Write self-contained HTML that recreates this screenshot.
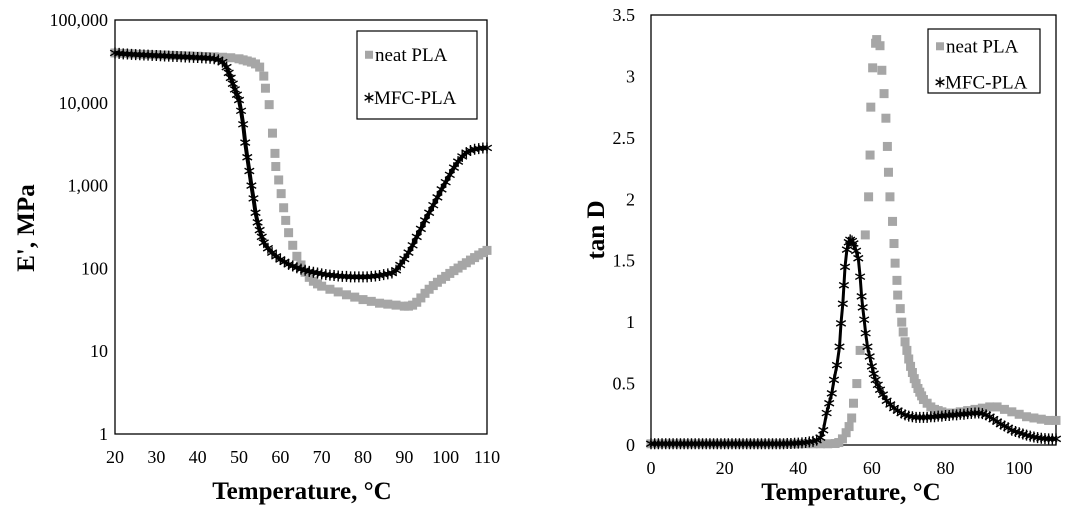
<!DOCTYPE html>
<html><head><meta charset="utf-8"><style>
html,body{margin:0;padding:0;background:#fff;}
svg{display:block;font-family:"Liberation Serif",serif;}
</style></head><body>
<svg id="svg" width="1075" height="512" viewBox="0 0 1075 512">
<g id="L"></g>
<g id="R"></g>
</svg>
<script>
// ---- Left chart data (E', MPa) ----
const leftNeatT = [20,22,24,26,28,30,32,34,36,38,40,42,44,46,48,50,51,52,53,54,55,56,56.4,57.3,58.1,58.7,58.9,59.6,60.2,60.8,61.3,62,63,64,65,66,67,68,69,70,72,74,76,78,80,82,84,86,88,90,91,92,93,94,95,96,97,98,99,100,101,102,103,104,105,106,107,108,109,110];
const leftNeatE = [40000,39500,39000,38500,38200,38000,37700,37400,37100,36800,36500,36200,35900,35500,35000,34000,33000,32000,31000,29500,27000,21000,15000,9500,4300,2450,1700,1170,800,540,380,270,190,140,110,90,78,70,65,61,56,52,48,45,42,40,38,37,36,35,35,36,39,44,50,56,62,68,74,80,87,94,101,109,117,126,135,145,155,165];
const leftMfcT = [20,21,22,23,24,25,26,27,28,29,30,31,32,33,34,35,36,37,38,39,40,41,42,43,44,45,46,47,47.5,48,48.5,49,49.5,50,50.5,51,51.5,52,52.5,53,53.5,54,54.5,55,55.5,56,57,58,59,60,61,62,63,64,65,66,67,68,69,70,71,72,73,74,75,76,77,78,79,80,81,82,83,84,85,86,87,88,89,90,91,92,93,94,95,96,97,98,99,100,101,102,103,104,105,106,107,108,109,110];
const leftMfcE = [40000,39500,39000,38800,38500,38200,38000,37800,37600,37400,37200,37000,36800,36600,36400,36200,36000,35800,35600,35400,35200,35000,34800,34500,34000,33000,31000,27000,23000,20000,17000,14500,12500,10800,8000,5500,3300,2200,1500,1000,700,470,360,290,240,205,175,155,140,128,120,112,107,102,98,95,92,90,88,86,84,83,82,81,80,80,79,79,79,79,79,80,81,82,84,86,88,95,110,130,155,190,240,300,380,470,580,720,900,1100,1350,1650,1950,2250,2500,2650,2750,2800,2850,2850,2850];
const leftYTicks = [1,10,100,1000,10000,100000];
const leftYLabels = ["1","10","100","1,000","10,000","100,000"];
const leftXTicks = [20,30,40,50,60,70,80,90,100,110];

// ---- Right chart data (tan D) ----
const rightNeatT = [0,2,4,6,8,10,12,14,16,18,20,22,24,26,28,30,32,34,36,38,40,42,44,46,48,50,51,52,53,53.8,54.5,55,55.9,56.8,58.2,59.1,59.5,59.7,60.2,61,61.3,62.2,62.7,63.3,63.8,64.2,64.5,64.9,65.6,66,66.3,66.8,67,67.7,68.1,68.5,69,69.5,70,70.5,71,71.5,72,72.5,73,73.5,74,75,76,77,78,79,80,82,84,86,88,90,92,94,96,98,100,102,104,106,108,110];
const rightNeatV = [0.01,0.01,0.01,0.01,0.01,0.01,0.01,0.01,0.01,0.01,0.01,0.01,0.01,0.01,0.01,0.01,0.01,0.01,0.01,0.01,0.01,0.01,0.01,0.01,0.01,0.012,0.02,0.05,0.1,0.15,0.22,0.34,0.5,0.77,1.71,2.02,2.36,2.75,3.07,3.27,3.3,3.25,3.05,2.86,2.66,2.43,2.22,2.02,1.82,1.64,1.48,1.34,1.22,1.11,1.0,0.92,0.84,0.77,0.7,0.64,0.59,0.54,0.5,0.46,0.43,0.4,0.37,0.34,0.31,0.29,0.28,0.27,0.26,0.26,0.27,0.28,0.29,0.3,0.31,0.31,0.29,0.27,0.25,0.23,0.22,0.21,0.2,0.2];
const rightMfcT = [0,1,2,3,4,5,6,7,8,9,10,11,12,13,14,15,16,17,18,19,20,21,22,23,24,25,26,27,28,29,30,31,32,33,34,35,36,37,38,39,40,41,42,43,44,45,46,46.8,47.7,48.4,49.1,49.7,50.5,51.2,51.6,52.1,52.4,52.7,53.2,53.7,54.1,54.6,55,55.7,56.3,56.8,57.2,57.5,57.9,58.3,58.8,59.4,60,60.5,61,61.6,62.2,63,64,65,66,67,68,69,70,71,72,73,74,75,76,77,78,79,80,81,82,83,84,85,86,87,88,89,90,91,92,93,94,95,96,97,98,99,100,101,102,103,104,105,106,107,108,109,110];
const rightMfcV = [0.01,0.01,0.01,0.01,0.01,0.01,0.01,0.01,0.01,0.01,0.01,0.01,0.01,0.01,0.01,0.01,0.01,0.01,0.01,0.01,0.01,0.01,0.01,0.01,0.01,0.01,0.01,0.01,0.01,0.01,0.01,0.01,0.01,0.01,0.01,0.01,0.01,0.012,0.012,0.014,0.015,0.017,0.02,0.025,0.03,0.04,0.06,0.12,0.26,0.34,0.42,0.53,0.65,0.8,0.99,1.15,1.3,1.45,1.59,1.65,1.67,1.66,1.64,1.58,1.52,1.37,1.21,1.12,1.02,0.91,0.8,0.72,0.64,0.58,0.53,0.49,0.45,0.41,0.36,0.33,0.3,0.28,0.26,0.245,0.235,0.23,0.225,0.225,0.225,0.225,0.23,0.23,0.235,0.235,0.24,0.24,0.245,0.245,0.25,0.25,0.255,0.257,0.26,0.26,0.255,0.245,0.23,0.21,0.19,0.17,0.155,0.14,0.12,0.11,0.1,0.09,0.08,0.072,0.065,0.06,0.055,0.052,0.05,0.05,0.05];
const rightYTicks = [0,0.5,1,1.5,2,2.5,3,3.5];
const rightYLabels = ["0","0.5","1","1.5","2","2.5","3","3.5"];
const rightXTicks = [0,20,40,60,80,100];

const NS = "http://www.w3.org/2000/svg";
function mk(parent, tag, attrs, text){
  const e = document.createElementNS(NS, tag);
  for (const k in attrs) e.setAttribute(k, attrs[k]);
  if (text !== undefined) e.textContent = text;
  parent.appendChild(e);
  return e;
}
function star(g, x, y, s){
  const p = mk(g, "path", {d:`M${x} ${y-s}V${y+s}M${x-s*0.87} ${y-s*0.5}L${x+s*0.87} ${y+s*0.5}M${x-s*0.87} ${y+s*0.5}L${x+s*0.87} ${y-s*0.5}`, stroke:"#000", "stroke-width":1.4, fill:"none"});
  
  
}
function square(g, x, y, s){
  const r = mk(g, "rect", {x:x-s/2, y:y-s/2, width:s, height:s, fill:"#a6a6a6"});
  
  
}
function legend(g, x, y, w, h, gap){
  const box = mk(g, "rect", {x:x, y:y, width:w, height:h, fill:"#fff", stroke:"#000", "stroke-width":1.2});
  
  
  square(g, x+12, y+h*0.27+0, 8);
  const t1 = mk(g, "text", {x:x+18, y:y+h*0.27+6, "font-size":19}, "neat PLA");
  
  
  star(g, x+12, y+h*0.27+gap, 5);
  const t2 = mk(g, "text", {x:x+17, y:y+h*0.27+gap+6, "font-size":19}, "MFC-PLA");
  
  
}

// ---- Left chart ----
(function(){
  const g = document.getElementById("L");
  const x0=115, x1=487, y0=20, y1=434;
  const xs = t => x0 + (t-20)/(110-20)*(x1-x0);
  const ys = v => y1 - Math.log10(v)/5*(y1-y0);
  const frame = mk(g,"rect",{x:x0,y:y0,width:x1-x0,height:y1-y0,fill:"#fff",stroke:"#000","stroke-width":1.3});
  
  
  leftYTicks.forEach((v,i)=>{
    const t = mk(g,"text",{x:x0-7,y:ys(v)+6,"text-anchor":"end","font-size":18},leftYLabels[i]);
    
    
  });
  leftXTicks.forEach(v=>{
    const t = mk(g,"text",{x:xs(v),y:463,"text-anchor":"middle","font-size":18},String(v));
    
    
  });
  const gt = mk(g,"text",{x:302,y:499,"text-anchor":"middle","font-size":25,"font-weight":"bold"},"Temperature, °C");
  
  
  const yt = mk(g,"text",{transform:"translate(34,228) rotate(-90)","text-anchor":"middle","font-size":25,"font-weight":"bold"},"E', MPa");
  
  
  const s1 = mk(g,"g",{});
  
  
  leftNeatT.forEach((t,i)=>square(s1, xs(t), ys(leftNeatE[i]), 9));
  const s2 = mk(g,"g",{});
  
  
  mk(s2,"polyline",{points:leftMfcT.map((t,i)=>xs(t)+","+ys(leftMfcE[i])).join(" "),fill:"none",stroke:"#000","stroke-width":4});
  leftMfcT.forEach((t,i)=>star(s2, xs(t), ys(leftMfcE[i]), 5.5));
  legend(g, 357, 31, 120, 88, 43);
})();

// ---- Right chart ----
(function(){
  const g = document.getElementById("R");
  const x0=651, x1=1056, y0=15, y1=445;
  const xs = t => x0 + t/110*(x1-x0);
  const ys = v => y1 - v/3.5*(y1-y0);
  const frame = mk(g,"rect",{x:x0,y:y0,width:x1-x0,height:y1-y0,fill:"#fff",stroke:"#000","stroke-width":1.3});
  
  
  rightYTicks.forEach((v,i)=>{
    const t = mk(g,"text",{x:x0-16,y:ys(v)+6,"text-anchor":"end","font-size":18},rightYLabels[i]);
    
    
  });
  rightXTicks.forEach(v=>{
    const t = mk(g,"text",{x:xs(v),y:474,"text-anchor":"middle","font-size":18},String(v));
    
    
  });
  const gt = mk(g,"text",{x:851,y:500,"text-anchor":"middle","font-size":25,"font-weight":"bold"},"Temperature, °C");
  
  
  const yt = mk(g,"text",{transform:"translate(604,230) rotate(-90)","text-anchor":"middle","font-size":25,"font-weight":"bold"},"tan D");
  
  
  const s1 = mk(g,"g",{});
  
  
  rightNeatT.forEach((t,i)=>square(s1, xs(t), ys(rightNeatV[i]), 9));
  const s2 = mk(g,"g",{});
  
  
  mk(s2,"polyline",{points:rightMfcT.map((t,i)=>xs(t)+","+ys(rightMfcV[i])).join(" "),fill:"none",stroke:"#000","stroke-width":3});
  rightMfcT.forEach((t,i)=>star(s2, xs(t), ys(rightMfcV[i]), 5.5));
  legend(g, 928, 29, 112, 64, 36);
})();
</script>
</body></html>
